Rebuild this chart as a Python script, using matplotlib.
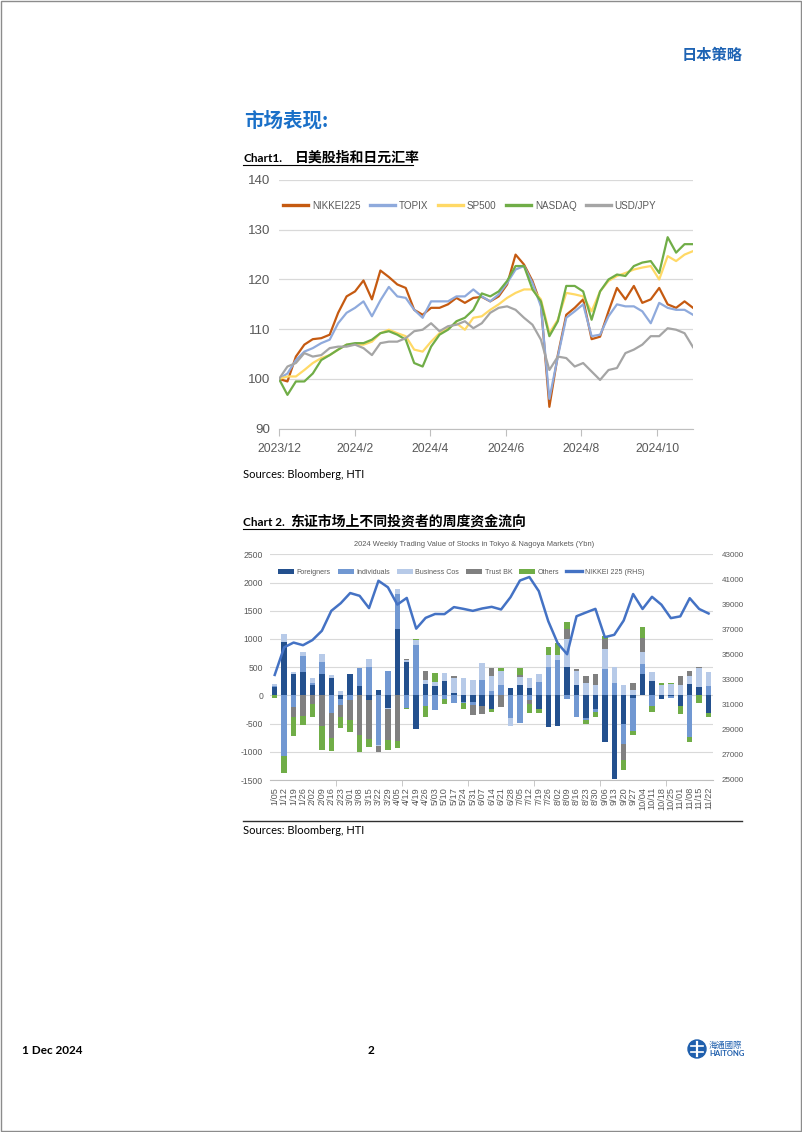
import matplotlib
matplotlib.use('Agg')
import matplotlib.pyplot as plt
import matplotlib.patches as patches
from matplotlib import font_manager
import numpy as np

# ---------------- Chart 1 data: indices rebased to 100, read roughly weekly ----------------
c1_ticklabels = ['2023/12', '2024/2', '2024/4', '2024/6', '2024/8', '2024/10']
c1_names = ['NIKKEI225', 'TOPIX', 'SP500', 'NASDAQ', 'USD/JPY']

nikkei = [100, 99.5, 104.5, 106.9, 108, 108.2, 108.9, 113.3, 116.6, 117.6,
          119.8, 116, 121.8, 120.5, 119, 118.3, 113.9, 112.9, 114.3, 114.3,
          115, 116.3, 115.3, 116.3, 116.5, 115.6, 116.6, 119, 125.0, 123,
          119.7, 115, 94.4, 104.8, 112.9, 114.3, 116, 108, 108.5, 113.6,
          118.3, 116, 118.7, 115.3, 116, 118.3, 115, 114.3, 115.6, 114.3]
topix = [100, 101.1, 103.8, 105.5, 106.2, 107.2, 107.9, 111.2, 113.3, 114.3,
         115.6, 112.6, 115.8, 118.5, 116.6, 116.3, 113.9, 112.3, 115.6, 115.6,
         115.6, 116.6, 116.6, 118, 116.6, 115.6, 117, 119.3, 122, 122.7,
         119.3, 114.6, 96, 104.5, 112.3, 113.6, 115, 108.6, 108.9, 112.6,
         115, 114.6, 114.6, 113.6, 111.2, 115.3, 114.3, 113.9, 113.9, 112.9]
sp500 = [100, 100.5, 100.5, 101.8, 103.2, 104.2, 104.8, 105.9, 106.9, 106.9,
         106.9, 107.5, 109.2, 109.9, 109.2, 108.6, 105.9, 105.5, 107.5, 109.2,
         110.2, 111.2, 109.9, 112.3, 112.6, 113.9, 115, 116.3, 117.3, 118,
         118, 116, 109.2, 111.9, 117.3, 117, 116.6, 113.6, 117.6, 119.7,
         120.7, 121.3, 122, 122.4, 122.7, 120, 124.7, 123.7, 125, 125.7]
nasdaq = [100, 96.8, 99.5, 99.5, 101.1, 103.8, 104.8, 105.9, 106.9, 107.2,
          107.2, 107.9, 109.2, 109.6, 108.9, 107.9, 103.2, 102.5, 106.5, 108.9,
          109.9, 111.6, 112.3, 113.9, 117.2, 116.6, 117.6, 119.7, 122.7, 122.7,
          118, 115.6, 108.6, 111.6, 118.7, 118.7, 117.6, 111.9, 117.6, 120,
          121, 120.7, 122.7, 123.4, 123.7, 121.3, 128.5, 125.4, 127.1, 127.1]
usdjpy = [100, 102.5, 103.2, 105.2, 104.5, 104.8, 106.2, 106.5, 106.5, 106.9,
          106.2, 104.8, 107.2, 107.5, 107.5, 108.2, 109.6, 109.9, 111.2, 109.6,
          110.6, 110.9, 111.6, 110.2, 111.2, 113.3, 114.3, 114.6, 113.9, 112.3,
          110.9, 107.9, 101.8, 104.5, 104.2, 102.5, 103.2, 101.5, 99.8, 101.8,
          102.2, 105.2, 105.9, 106.9, 108.6, 108.6, 110.2, 109.9, 109.2, 106.4]

# ---------------- Chart 2 data: weekly net buying (Ybn) + Nikkei 225 ----------------
weeks = ['1/05', '1/12', '1/19', '1/26', '2/02', '2/09', '2/16', '2/23', '3/01', '3/08',
         '3/15', '3/22', '3/29', '4/05', '4/12', '4/19', '4/26', '5/03', '5/10', '5/17',
         '5/24', '5/31', '6/07', '6/14', '6/21', '6/28', '7/05', '7/12', '7/19', '7/26',
         '8/02', '8/09', '8/16', '8/23', '8/30', '9/06', '9/13', '9/20', '9/27', '10/04',
         '10/11', '10/18', '10/25', '11/01', '11/08', '11/15', '11/22']
cat_names = ['Foreigners', 'Individuals', 'Business Cos', 'Trust BK', 'Others']
foreigners = [140, 950, 380, 410, 180, 370, 310, -70, 370, 170, -90, 90, -230, 1180,
              600, -600, 210, 170, 260, 50, -120, -110, -190, -240, 0, 130, 190, 130, -250,
              -560, -540, 500, 190, -400, -240, -820, -1490, -500, -50, 380, 250, -60, -20,
              -190, 200, 150, -320]
individuals = [20, -1070, -200, 280, 40, 220, -320, -100, -80, 320, 500, -880, 440, 620,
               -230, 890, -180, -260, -60, -140, -20, -60, 280, 80, 180, -400, -490, -90, 240,
               510, 630, -60, -380, -30, -60, 460, 220, -370, -590, 180, -180, 0, -20,
               0, -730, 0, 160]
business = [40, 140, 40, 70, 90, 150, 50, 80, 0, 0, 140, -20, -20, 80,
            20, 90, 60, 70, 140, 250, 310, 270, 300, 260, 260, -140, 130, 170, 140,
            210, 80, 500, 250, 220, 190, 370, 290, 180, 100, 200, 160, 190, 210,
            180, 150, 340, 250]
trust = [0, 0, -180, -370, -150, -550, -440, -210, -350, -700, -690, -110, -540, -800,
         30, 0, 160, 0, 0, 40, 0, -170, -140, 150, -210, 0, 40, -70, 0,
         0, 0, 170, 20, 120, 190, 170, 0, -280, 120, 250, 0, 0, 0,
         160, 80, 10, 0]
others = [-50, -300, -340, -160, -240, -410, -230, -190, -220, -310, -140, 0, -180, -130,
          -10, 20, -200, 160, -100, 0, -110, 0, 0, -60, 50, 0, 130, -150, -60,
          130, 220, 130, 0, -70, -80, 60, 0, -170, -60, 200, -110, 30, 10,
          -140, -100, -130, -60]
nikkei225 = [33380, 35580, 35960, 35750, 36160, 36900, 38490, 39100, 39910, 39690,
             38710, 40890, 40370, 38990, 39520, 37070, 37930, 38240, 38230, 38790,
             38650, 38490, 38680, 38810, 38600, 39580, 40910, 41190, 40060, 37670,
             35910, 35030, 38060, 38360, 38650, 36390, 36580, 37720, 39830, 38640,
             39610, 38980, 37910, 38050, 39500, 38640, 38280]

# ---------------- fonts ----------------
installed = {f.name for f in font_manager.fontManager.ttflist}
if 'Liberation Sans Narrow' in installed:
    narrow, k = 'Liberation Sans Narrow', 1.2
elif 'Liberation Sans' in installed:
    narrow, k = 'Liberation Sans', 1.0
else:
    narrow, k = 'DejaVu Sans', 0.9
latin = 'Lato' if 'Lato' in installed else 'DejaVu Sans'
cjk = 'Noto Sans CJK SC'
plt.rcParams['font.family'] = [narrow, cjk]
plt.rcParams['axes.unicode_minus'] = False

W, H = 802, 1132
fig = plt.figure(figsize=(W / 100, H / 100), dpi=100)


def px_box(left, top, right, bottom):
    return [left / W, 1 - bottom / H, (right - left) / W, (bottom - top) / H]


# page layer (text, rules, footer)
page = fig.add_axes([0, 0, 1, 1])
page.set_xlim(0, W)
page.set_ylim(H, 0)
page.axis('off')

blue = '#1F64B4'
grey_txt = '#595959'

page.add_patch(patches.Rectangle((0.5, 0.5), W - 1.5, H - 1.5, fill=False, ec='#8C8C8C', lw=1))
page.text(712, 55, '日本策略', color=blue, fontsize=11, fontweight='bold', ha='center', va='center', family=cjk)
page.text(244, 121, '市场表现:', color='#1A70C8', fontsize=14, fontweight='bold', ha='left', va='center', family=cjk)

# chart 1 heading
page.text(243, 158, 'Chart1.', fontsize=8.5, fontweight='bold', ha='left', va='center', family=latin)
page.text(295, 158, '日美股指和日元汇率', fontsize=10, fontweight='bold', ha='left', va='center', family=cjk)
page.plot([243, 413], [165, 165], color='black', lw=0.8)
page.text(243, 474, 'Sources: Bloomberg, HTI', fontsize=8, ha='left', va='center', family=latin)

# chart 2 heading
page.text(243, 522, 'Chart 2.', fontsize=8.5, fontweight='bold', ha='left', va='center', family=latin)
page.text(290, 522, '东证市场上不同投资者的周度资金流向', fontsize=10, fontweight='bold', ha='left', va='center', family=cjk)
page.plot([243, 519], [528.5, 528.5], color='black', lw=0.8)
page.text(474, 544, '2024 Weekly Trading Value of Stocks in Tokyo & Nagoya Markets (Ybn)',
          fontsize=5.4 * k, color=grey_txt, ha='center', va='center', family=narrow)
page.plot([243, 742], [821, 821], color='#303030', lw=1)
page.text(243, 830, 'Sources: Bloomberg, HTI', fontsize=8, ha='left', va='center', family=latin)

# footer
page.text(22, 1051, '1 Dec 2024', fontsize=8.5, fontweight='bold', ha='left', va='center', family=latin)
page.text(371, 1051, '2', fontsize=8.5, fontweight='bold', ha='center', va='center', family=latin)
page.add_patch(patches.Circle((697, 1049), 9, color='#1F5FAD'))
page.plot([697, 697], [1042, 1056], color='white', lw=1.6)
page.plot([691, 703], [1046, 1046], color='white', lw=1.2)
page.plot([691, 703], [1052, 1052], color='white', lw=1.2)
page.text(709, 1045, '海通國際', fontsize=6, color='#1F5FAD', ha='left', va='center', family=cjk)
page.text(709, 1054, 'HAITONG', fontsize=5.5, fontweight='bold', color='#1F5FAD', ha='left', va='center', family=latin)

# ---------------- Chart 1 ----------------
ax1 = fig.add_axes(px_box(279, 180, 693, 428.7))
ax1.patch.set_visible(False)
x1 = np.arange(len(nikkei))
colors1 = ['#C55A11', '#8FAADC', '#FFD966', '#70AD47', '#A5A5A5']
for vals, name, col in zip([nikkei, topix, sp500, nasdaq, usdjpy], c1_names, colors1):
    ax1.plot(x1, vals, color=col, lw=1.6, label=name)
ax1.set_xlim(0, len(nikkei) - 1)
ax1.set_ylim(90, 140)
ax1.set_yticks(np.arange(90, 141, 10))
ax1.yaxis.grid(True, color='#D9D9D9', lw=0.9)
ax1.set_axisbelow(True)
ax1.set_xticks(np.arange(len(c1_ticklabels)) * 8.95)
ax1.set_xticklabels(c1_ticklabels)
for s in ['top', 'right', 'left']:
    ax1.spines[s].set_visible(False)
ax1.spines['bottom'].set_color('#BFBFBF')
ax1.tick_params(axis='y', length=0, pad=6, labelsize=9.6 * k, labelcolor=grey_txt)
ax1.tick_params(axis='x', length=5, color='#BFBFBF', pad=5, labelsize=8.8 * k, labelcolor=grey_txt)
fs_leg1 = 7.1 * k
leg1 = ax1.legend(loc='center', bbox_to_anchor=(0.461, 0.897), ncol=5, frameon=False,
                  fontsize=fs_leg1, handlelength=18 / fs_leg1, handletextpad=3 / fs_leg1,
                  columnspacing=6.5 / fs_leg1, labelcolor=grey_txt)
for ln in leg1.get_lines():
    ln.set_linewidth(2.4)

# ---------------- Chart 2 ----------------
ax2 = fig.add_axes(px_box(270, 554.3, 713.3, 780))
ax2.patch.set_visible(False)
x2 = np.arange(len(weeks))
colors2 = ['#23508E', '#7198D2', '#B7CAE8', '#808080', '#70AD47']
pos_base = np.zeros(len(weeks))
neg_base = np.zeros(len(weeks))
bar_handles = []
for vals, name, col in zip([foreigners, individuals, business, trust, others], cat_names, colors2):
    v = np.array(vals, dtype=float)
    base = np.where(v >= 0, pos_base, neg_base)
    b = ax2.bar(x2, v, bottom=base, width=0.58, color=col, label=name, zorder=2)
    bar_handles.append(b)
    pos_base += np.clip(v, 0, None)
    neg_base += np.clip(v, None, 0)
ax2.set_xlim(-0.5, len(weeks) - 0.5)
ax2.set_ylim(-1500, 2500)
ax2.set_yticks(np.arange(-1500, 2501, 500))
ax2.yaxis.grid(True, color='#D9D9D9', lw=0.8)
ax2.set_axisbelow(True)
ax2.set_xticks(x2)
ax2.set_xticklabels(weeks, rotation=90)
ax2.set_xticks(np.arange(6.5, len(weeks), 7), minor=True)
for s in ['top', 'right', 'left']:
    ax2.spines[s].set_visible(False)
ax2.spines['bottom'].set_color('#BFBFBF')
ax2.tick_params(axis='x', which='major', length=0, pad=5, labelsize=6.6 * k, labelcolor=grey_txt)
ax2.tick_params(axis='x', which='minor', length=4, color='#BFBFBF')
ax2.tick_params(axis='y', length=0, pad=5, labelsize=6.2 * k, labelcolor=grey_txt)

ax2r = ax2.twinx()
ax2r.patch.set_visible(False)
line, = ax2r.plot(x2, nikkei225, color='#4472C4', lw=1.8, label='NIKKEI 225 (RHS)', zorder=3)
ax2r.set_ylim(25000, 43000)
ax2r.set_yticks(np.arange(25000, 43001, 2000))
for s in ['top', 'right', 'left', 'bottom']:
    ax2r.spines[s].set_visible(False)
ax2r.tick_params(axis='y', length=0, pad=6, labelsize=5.8 * k, labelcolor=grey_txt)
fs_leg2 = 5.1 * k
leg2 = ax2r.legend(bar_handles + [line], cat_names + ['NIKKEI 225 (RHS)'], loc='center',
                   bbox_to_anchor=(0.431, 0.920), ncol=6, frameon=False, fontsize=fs_leg2,
                   handlelength=11.5 / fs_leg2, handleheight=4.5 / fs_leg2,
                   handletextpad=1.8 / fs_leg2, columnspacing=5 / fs_leg2,
                   labelcolor=grey_txt)
leg2.get_lines()[0].set_linewidth(2.4)

fig.savefig('out.png', dpi=100)
